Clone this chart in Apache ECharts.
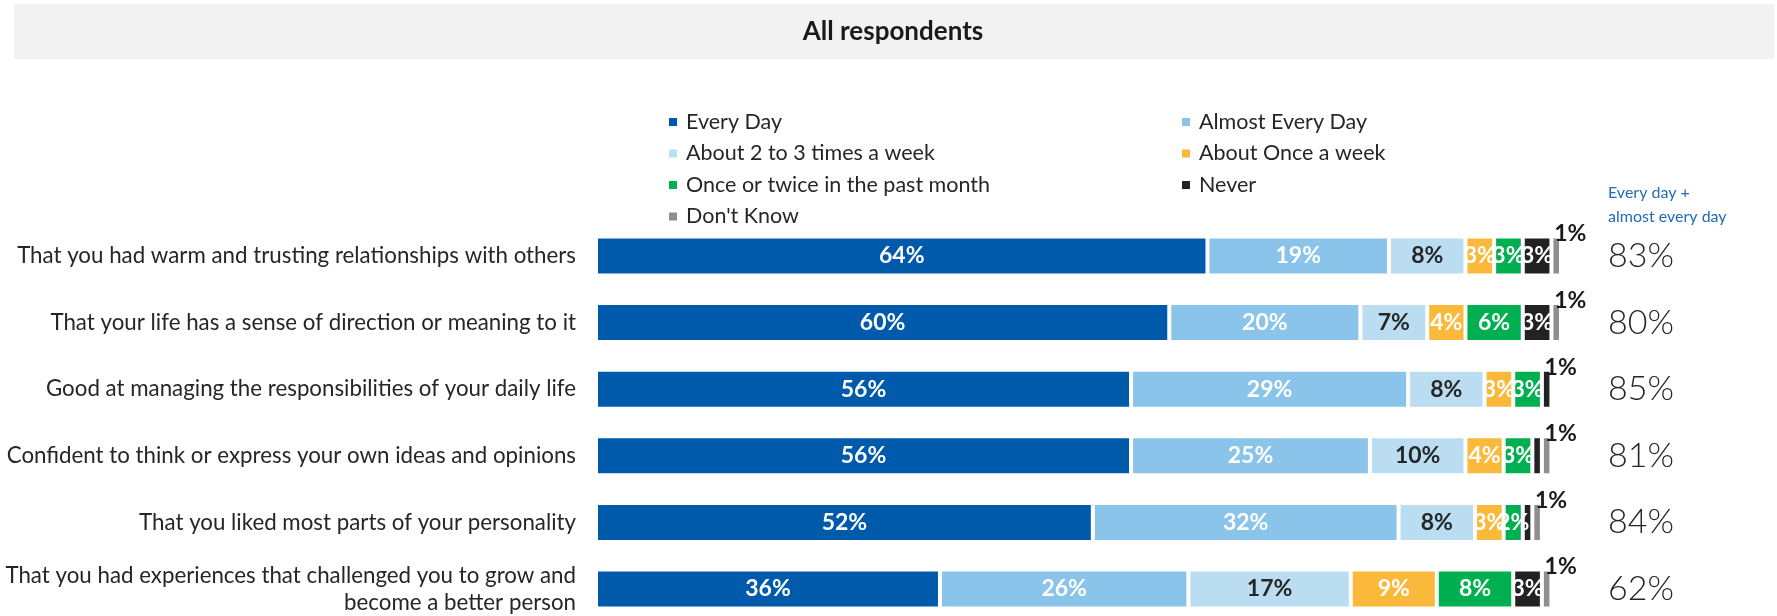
<!DOCTYPE html>
<html>
<head>
<meta charset="utf-8">
<title>All respondents</title>
<script src="https://cdn.jsdelivr.net/npm/echarts@6/dist/echarts.min.js"></script>
<style>
  html, body { margin: 0; padding: 0; background: #ffffff; }
  #chart { width: 1777px; height: 616px; }
</style>
</head>
<body>
<div id="chart"></div>
<script>
// Statements asked about, top to bottom
const statements = [
  'That you had warm and trusting relationships with others',
  'That your life has a sense of direction or meaning to it',
  'Good at managing the responsibilities of your daily life',
  'Confident to think or express your own ideas and opinions',
  'That you liked most parts of your personality',
  'That you had experiences that challenged you to grow and\nbecome a better person'
];

// Share of respondents (%) for each answer
const everyDay       = [64, 60, 56, 56, 52, 36];
const almostEveryDay = [19, 20, 29, 25, 32, 26];
const twoToThree     = [8, 7, 8, 10, 8, 17];
const onceAWeek      = [3, 4, 3, 4, 3, 9];
const onceOrTwice    = [3, 6, 3, 3, 2, 8];
const never          = [3, 3, 1, 1, 1, 3];
const dontKnow       = [1, 1, 0, 1, 1, 1];

// Every day + almost every day
const combined = [83, 80, 85, 81, 84, 62];

const seriesNames = [
  'Every Day', 'Almost Every Day', 'About 2 to 3 times a week',
  'About Once a week', 'Once or twice in the past month', 'Never', "Don't Know"
];
const seriesValues = [everyDay, almostEveryDay, twoToThree, onceAWeek, onceOrTwice, never, dontKnow];
const seriesColors = ['#005AAB', '#8AC4EA', '#BBDDF2', '#FAB93A', '#00B050', '#222222', '#8F8F90'];
const labelColors  = ['#ffffff', '#ffffff', '#262626', '#ffffff', '#ffffff', '#ffffff', '#1a1a1a'];

const FONT = 'Lato, "Open Sans", sans-serif';

// Small end-of-bar label sitting above the last segment
const outerLabel = {
  show: true,
  position: 'top',
  distance: 0,
  offset: [14, 9],
  color: '#1a1a1a',
  fontFamily: FONT,
  fontWeight: 'bold',
  fontSize: 23,
  formatter: p => (p.value > 0 ? p.value + '%' : '')
};

const series = seriesNames.map((name, si) => {
  const isLast = si === seriesNames.length - 1;
  const data = seriesValues[si].map((v, i) => {
    // where nothing follows "Never", its value goes on top like the end labels
    if (si === 5 && dontKnow[i] === 0) {
      return { value: v, label: outerLabel };
    }
    return v;
  });
  return {
    name,
    type: 'bar',
    stack: 'total',
    barWidth: 39,
    data,
    itemStyle: { color: seriesColors[si], borderColor: '#ffffff', borderWidth: 2 },
    label: isLast ? outerLabel : {
      show: true,
      position: 'inside',
      color: labelColors[si],
      fontFamily: FONT,
      fontWeight: 'bold',
      fontSize: 23,
      formatter: p => (p.value >= 2 ? p.value + '%' : '')
    },
    emphasis: { disabled: true }
  };
});

const legendText = { fontFamily: FONT, fontSize: 21.5, color: '#262626', lineHeight: 20, padding: [0, 0, 0, 3] };
const legendBase = {
  orient: 'vertical',
  align: 'left',
  padding: 0,
  top: 111,
  itemWidth: 10, itemHeight: 10, itemGap: 9.5,
  icon: 'rect',
  selectedMode: false,
  textStyle: legendText
};

const option = {
  animation: false,
  backgroundColor: '#ffffff',
  textStyle: { fontFamily: FONT },
  graphic: [
    {
      type: 'rect',
      shape: { x: 14, y: 4, width: 1760, height: 55 },
      style: { fill: '#F2F2F2' },
      z: -1
    },
    {
      type: 'text',
      x: 893, y: 32,
      style: {
        text: 'All respondents',
        fontFamily: FONT, fontWeight: 'bold', fontSize: 26,
        fill: '#1a1a1a', align: 'center', verticalAlign: 'middle'
      }
    },
    {
      type: 'text',
      x: 1608, y: 205,
      style: {
        text: 'Every day +\nalmost every day',
        fontFamily: FONT, fontSize: 16, lineHeight: 24,
        fill: '#1F6BB5', align: 'left', verticalAlign: 'middle'
      }
    }
  ],
  legend: [
    Object.assign({}, legendBase, {
      left: 667,
      data: ['Every Day', 'About 2 to 3 times a week', 'Once or twice in the past month', "Don't Know"]
    }),
    Object.assign({}, legendBase, {
      left: 1180,
      data: ['Almost Every Day', 'About Once a week', 'Never']
    })
  ],
  // category ticks sit at the band ends, so the first and last bars land on the grid edges
  grid: { left: 596, top: 256, width: 965, height: 338, containLabel: false },
  xAxis: {
    type: 'value', min: 0, max: 101,
    show: false
  },
  yAxis: [
    {
      type: 'category',
      inverse: true,
      boundaryGap: false,
      data: statements,
      axisLine: { show: false },
      axisTick: { show: false },
      splitLine: { show: false },
      axisLabel: {
        margin: 20,
        fontFamily: FONT, fontSize: 22.3, lineHeight: 27,
        color: '#262626', align: 'right'
      }
    },
    {
      type: 'category',
      inverse: true,
      boundaryGap: false,
      position: 'right',
      data: combined.map(v => v + '%'),
      axisLine: { show: false },
      axisTick: { show: false },
      splitLine: { show: false },
      axisLabel: {
        margin: 47,
        fontFamily: FONT, fontSize: 34, fontWeight: 300,
        color: '#262626', align: 'left'
      }
    }
  ],
  series
};

const chart = echarts.init(document.getElementById('chart'), null, { renderer: 'canvas' });
chart.setOption(option);
</script>
</body>
</html>
